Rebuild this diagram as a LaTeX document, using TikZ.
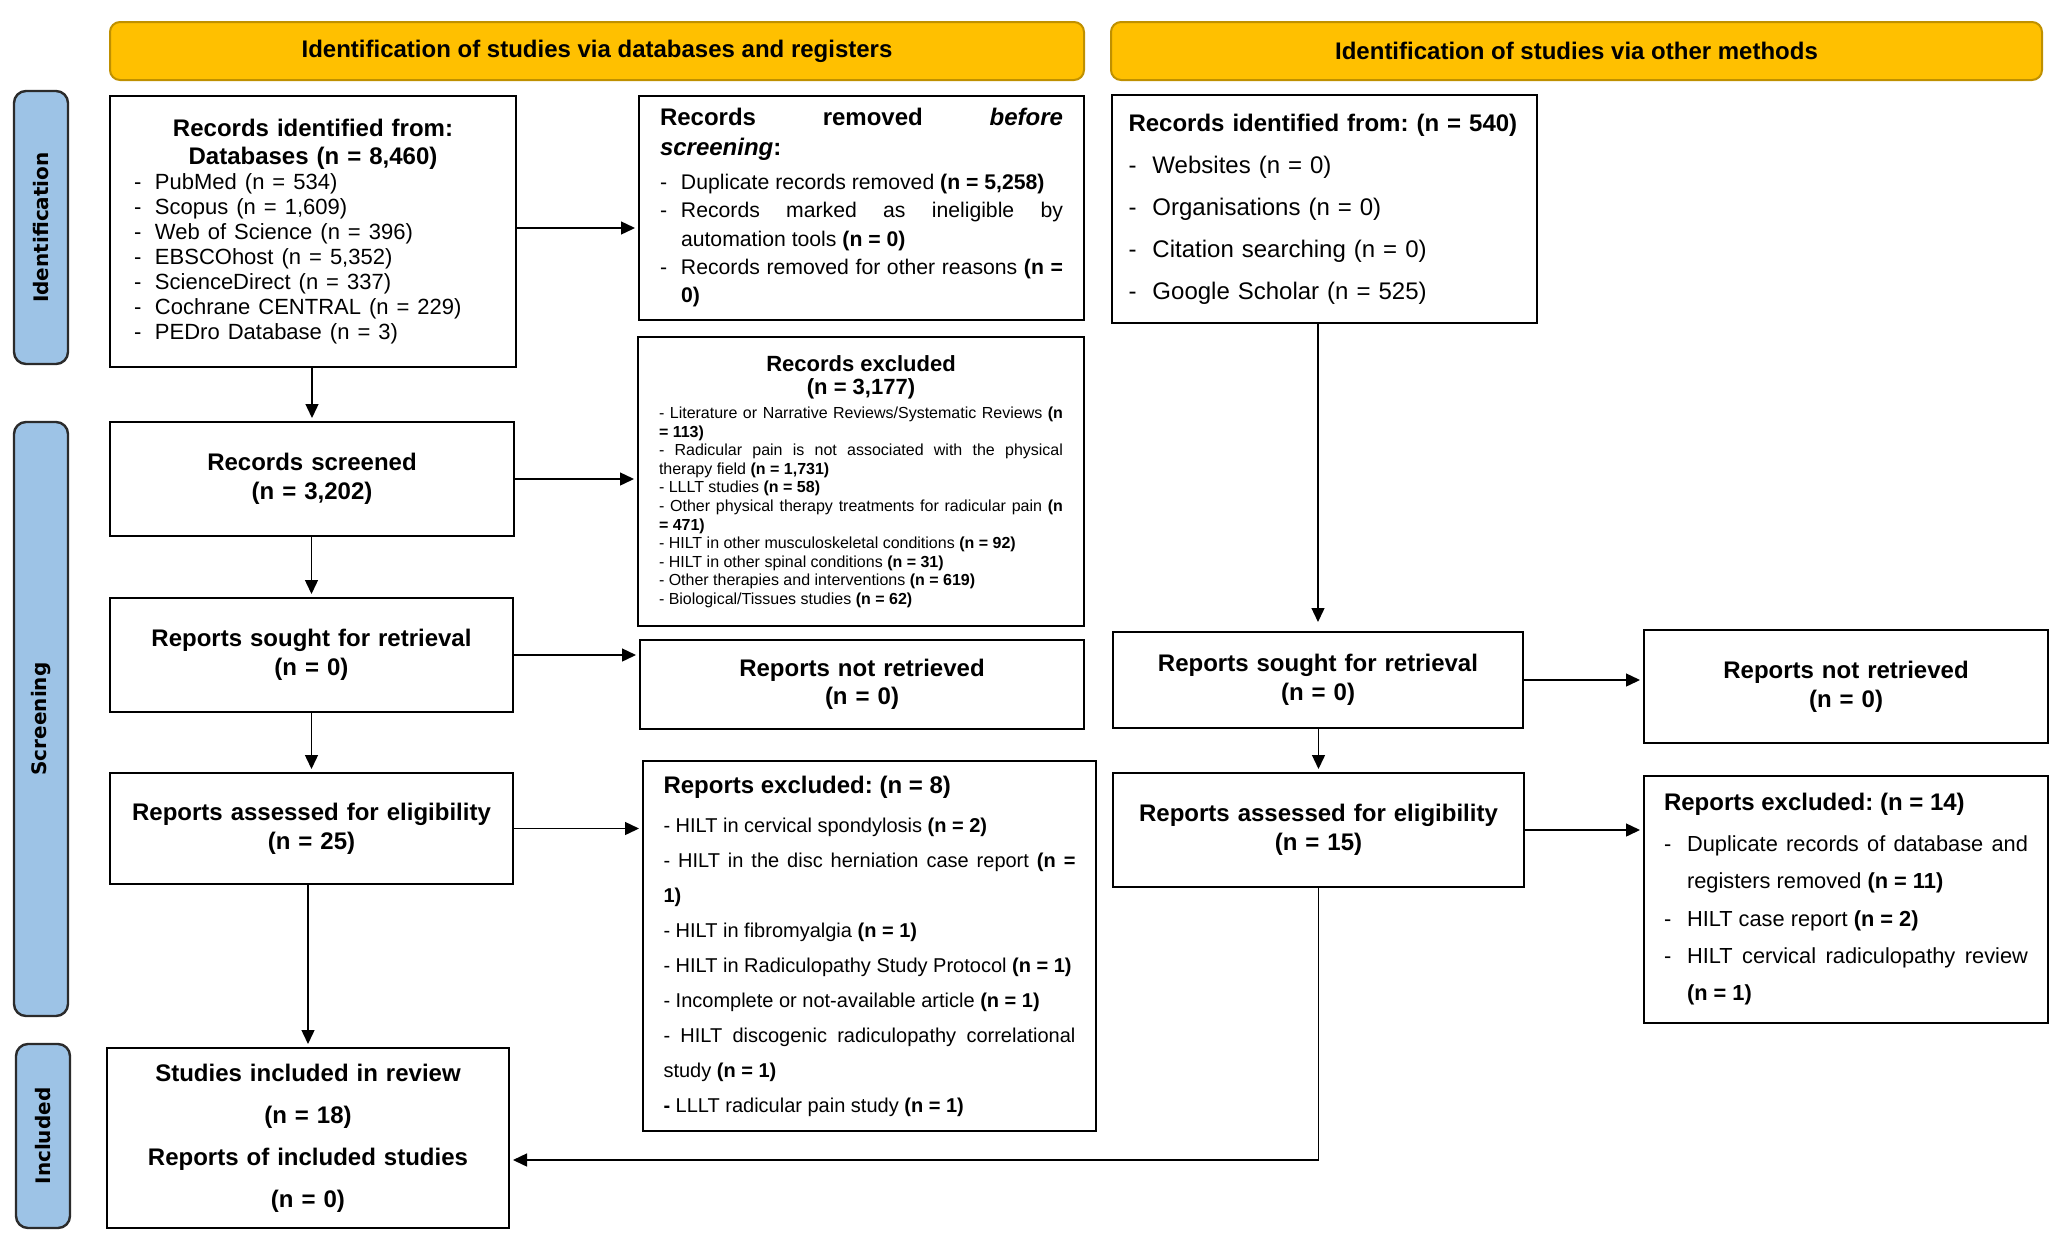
\documentclass[tikz,border=0pt]{standalone}
\usepackage{fontspec}
\setmainfont{Liberation Sans}
\newfontfamily\sidefont{DejaVu Sans}
\usetikzlibrary{arrows.meta}
\definecolor{hdrfill}{HTML}{FFC000}
\definecolor{hdrline}{HTML}{BF9000}
\definecolor{sidefill}{HTML}{9DC3E6}
\definecolor{sideline}{HTML}{2B2B2B}
\setlength{\parindent}{0pt}
\setlength{\parskip}{0pt}
\frenchspacing
\hyphenpenalty=10000
\exhyphenpenalty=10000
% one dash item with a hanging indent
\newcommand{\dashitem}[2][10.5pt]{\par\hangindent=#1\hangafter=1\noindent\makebox[#1][l]{-}#2}

\begin{document}
\begin{tikzpicture}[x=0.5pt,y=-0.5pt,
  box/.style={draw,line width=1pt,fill=white,inner sep=0pt,align=center,
    font=\fontsize{12}{14.4}\selectfont\bfseries},
  hdr/.style={draw=hdrline,fill=hdrfill,line width=1pt,rounded corners=5pt,
    minimum height=29pt,font=\fontsize{12}{14}\selectfont\bfseries},
  side/.style={draw=sideline,fill=sidefill,line width=1.2pt,rounded corners=6pt,
    rotate=90,minimum height=27pt,font=\sidefont\fontsize{10}{12}\selectfont\bfseries},
  arr/.style={-{Triangle[length=7pt,width=6.5pt]},line width=0.7pt,shorten >=1.5pt}]
\useasboundingbox (0,0) rectangle (2056,1237);

% headers and phases
\node[hdr,minimum width=487pt] (hdrdb) at (597,51) {Identification of studies via databases and registers};
\node[hdr,minimum width=465.5pt] (hdroth) at (1576.5,51) {Identification of studies via other methods};
\node[side,minimum width=136.5pt] (sideid) at (41,227.5) {Identification};
\node[side,minimum width=297pt] (sidescr) at (41,719) {Screening};
\node[side,minimum width=92pt] (sideinc) at (43,1136) {Included};

% databases and registers
\node[box,minimum width=203pt,minimum height=135.5pt,text width=179pt,align=left] (dbrec) at (313,231.5) {%
  {\centering\fontsize{12}{13.8}\selectfont Records identified from:\\ Databases (n = 8,460)\par}
  \mdseries\fontsize{11}{12.5}\selectfont
  \dashitem{PubMed (n = 534)}
  \dashitem{Scopus (n = 1,609)}
  \dashitem{Web of Science (n = 396)}
  \dashitem{EBSCOhost (n = 5,352)}
  \dashitem{ScienceDirect (n = 337)}
  \dashitem{Cochrane CENTRAL (n = 229)}
  \dashitem{PEDro Database (n = 3)}\par};
\node[box,minimum width=222.5pt,minimum height=112pt,text width=201.5pt,align=justify] (dbremoved) at (861.5,208) {%
  \fontsize{12}{15}\selectfont Records removed \textit{before}\linebreak \textit{screening}:\par
  \vspace{2.5pt}
  \mdseries\fontsize{10.6}{14.2}\selectfont
  \dashitem{Duplicate records removed \textbf{(n = 5,258)}}
  \dashitem{Records marked as ineligible by\linebreak automation tools \textbf{(n = 0)}}
  \dashitem{Records removed for other reasons \textbf{(n =\linebreak 0)}}\par};
\node[box,minimum width=223pt,minimum height=144.5pt,text width=202pt,align=justify] (dbexcl) at (861,481.5) {%
  {\centering\fontsize{11}{11.8}\selectfont Records excluded\\ (n = 3,177)\par}
  \vspace{2.5pt}
  \mdseries\fontsize{8}{9.3}\selectfont
  - Literature or Narrative Reviews/Systematic Reviews \textbf{(n\linebreak = 113)}\par
  - Radicular pain is not associated with the physical\linebreak therapy field \textbf{(n = 1,731)}\par
  - LLLT studies \textbf{(n = 58)}\par
  - Other physical therapy treatments for radicular pain \textbf{(n\linebreak = 471)}\par
  - HILT in other musculoskeletal conditions \textbf{(n = 92)}\par
  - HILT in other spinal conditions \textbf{(n = 31)}\par
  - Other therapies and interventions \textbf{(n = 619)}\par
  - Biological/Tissues studies \textbf{(n = 62)}\par};
\node[box,minimum width=202pt,minimum height=57pt,text width=190pt] (dbscreened) at (312,479) {Records screened\\(n = 3,202)};
\node[box,minimum width=201.5pt,minimum height=57pt,text width=190pt] (dbsought) at (311.5,655) {Reports sought for retrieval\\(n = 0)};
\node[box,minimum width=222pt,minimum height=44.5pt,text width=200pt,font=\fontsize{12}{13.8}\selectfont\bfseries] (dbnotret) at (862,684.5) {Reports not retrieved\\(n = 0)};
\node[box,minimum width=201.5pt,minimum height=55.5pt,text width=190pt] (dbassessed) at (311.5,828.5) {Reports assessed for eligibility\\(n = 25)};
\node[box,minimum width=226.5pt,minimum height=185pt,text width=206pt,align=justify] (dbrepexcl) at (869.5,946) {%
  \fontsize{12}{14}\selectfont Reports excluded: (n = 8)\par
  \vspace{2pt}
  \mdseries\fontsize{10}{17.5}\selectfont
  - HILT in cervical spondylosis \textbf{(n = 2)}\par
  - HILT in the disc herniation case report \textbf{(n =\linebreak 1)}\par
  - HILT in fibromyalgia \textbf{(n = 1)}\par
  - HILT in Radiculopathy Study Protocol \textbf{(n = 1)}\par
  - Incomplete or not-available article \textbf{(n = 1)}\par
  - HILT discogenic radiculopathy correlational\linebreak study \textbf{(n = 1)}\par
  \textbf{-} LLLT radicular pain study \textbf{(n = 1)}\par};
\node[box,minimum width=201pt,minimum height=90pt,text width=190pt,font=\fontsize{12}{21}\selectfont\bfseries] (included) at (308,1138) {Studies included in review\\(n = 18)\\Reports of included studies\\(n = 0)};

% other methods
\node[box,minimum width=212.5pt,minimum height=114pt,text width=196pt,align=left,font=\fontsize{12}{21}\selectfont\bfseries] (othrec) at (1324.5,209) {%
  Records identified from: (n = 540)\par
  \mdseries
  \dashitem[12pt]{Websites (n = 0)}
  \dashitem[12pt]{Organisations (n = 0)}
  \dashitem[12pt]{Citation searching (n = 0)}
  \dashitem[12pt]{Google Scholar (n = 525)}\par};
\node[box,minimum width=205pt,minimum height=48pt,text width=195pt] (othsought) at (1318,680) {Reports sought for retrieval\\(n = 0)};
\node[box,minimum width=202pt,minimum height=56.5pt,text width=190pt] (othnotret) at (1846,686.5) {Reports not retrieved\\(n = 0)};
\node[box,minimum width=205.5pt,minimum height=57pt,text width=195pt] (othassessed) at (1318.5,830) {Reports assessed for eligibility\\(n = 15)};
\node[box,minimum width=202pt,minimum height=123.5pt,text width=182pt,align=justify] (othexcl) at (1846,899.5) {%
  \fontsize{12}{14}\selectfont Reports excluded: (n = 14)\par
  \vspace{1.5pt}
  \mdseries\fontsize{10.9}{18.7}\selectfont
  \dashitem[11.5pt]{Duplicate records of database and\linebreak registers removed \textbf{(n = 11)}}
  \dashitem[11.5pt]{HILT case report \textbf{(n = 2)}}
  \dashitem[11.5pt]{HILT cervical radiculopathy review\linebreak \textbf{(n = 1)}}\par};

% connectors
\coordinate (rmlevel) at (0,228);
\coordinate (turnpt) at (0,1160);
\draw[arr] (dbrec.east |- rmlevel) -- (dbremoved.west |- rmlevel);
\draw[arr] (dbrec.south -| dbscreened.north) -- (dbscreened.north);
\draw[arr] (dbscreened.east) -- (dbexcl.west |- dbscreened.east);
\draw[arr] (dbscreened.south -| dbsought.north) -- (dbsought.north);
\draw[arr] (dbsought.east) -- (dbnotret.west |- dbsought.east);
\draw[arr] (dbsought.south -| dbassessed.north) -- (dbassessed.north);
\draw[arr] (dbassessed.east) -- (dbrepexcl.west |- dbassessed.east);
\draw[arr] (dbassessed.south -| included.north) -- (included.north);
\draw[arr,shorten >=4.5pt] (othrec.south -| othsought.north) -- (othsought.north);
\draw[arr] (othsought.east) -- (othnotret.west |- othsought.east);
\draw[arr] (othsought.south -| othassessed.north) -- (othassessed.north);
\draw[arr] (othassessed.east) -- (othexcl.west |- othassessed.east);
\draw[arr] (othassessed.south) |- (included.east |- turnpt);
\end{tikzpicture}
\end{document}
